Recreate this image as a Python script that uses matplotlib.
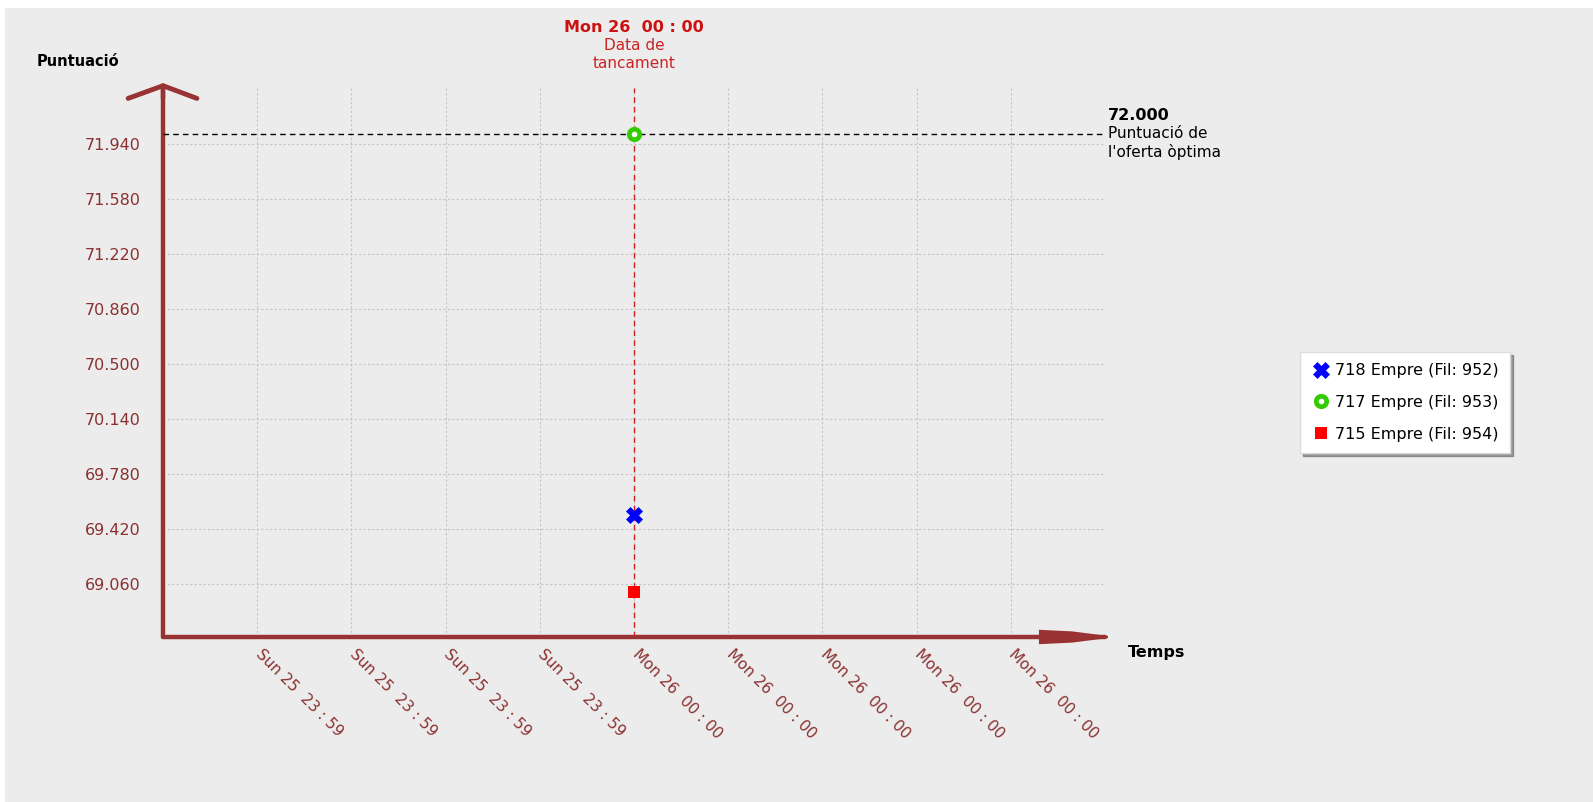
import matplotlib.pyplot as plt
import matplotlib.transforms as mtransforms
from matplotlib.patches import Rectangle, Polygon
from matplotlib.lines import Line2D

# data
tick_pos = [1, 2, 3, 4, 5, 6, 7, 8, 9]
tick_labels = ["Sun 25  23 : 59"] * 4 + ["Mon 26  00 : 00"] * 5
y_ticks = [69.060, 69.420, 69.780, 70.140, 70.500, 70.860, 71.220, 71.580, 71.940]
closing_x = 5
closing_label = "Mon 26  00 : 00"
optimal_score = 72.000

series_names = ["718 Empre (Fil: 952)", "717 Empre (Fil: 953)", "715 Empre (Fil: 954)"]
series_x = [5, 5, 5]
series_y = [69.51, 72.0, 69.01]

W, H = 1593, 802
axis_red = '#993333'
label_red = '#8b3030'
font = 'DejaVu Sans'

fig = plt.figure(figsize=(W / 100, H / 100), dpi=100, facecolor='white')
fig.patches.append(Rectangle((5 / W, 0), 1, 1 - 8 / H, transform=fig.transFigure,
                             facecolor='#ececec', edgecolor='none', zorder=-10))

ax = fig.add_axes([163 / W, 1 - 637 / H, 942 / W, 549 / H])
ax.patch.set_alpha(0)
ax.set_xlim(0, 10)
ax.set_ylim(68.714, 72.303)

# x tick labels drawn as texts so they can be nudged off the tick point
ax.set_xticks(tick_pos)
ax.set_xticklabels([])
xt = ax.get_xaxis_transform()
shift = mtransforms.ScaledTranslation(6 / 100, -10 / 100, fig.dpi_scale_trans)
for xv, lab in zip(tick_pos, tick_labels):
    ax.text(xv, 0, lab, transform=xt + shift, rotation=-45, ha='left', va='top',
            rotation_mode='anchor', color=label_red, fontsize=11, family=font)

ax.set_yticks(y_ticks)
ax.set_yticklabels([f"{v:.3f}" for v in y_ticks], color=label_red, fontsize=11.5, family=font)
ax.tick_params(axis='x', length=0)
ax.tick_params(axis='y', length=0, pad=16)
ax.grid(True, color='#c4c4c4', linestyle=(0, (2, 2)), linewidth=0.8)

for s in ['top', 'right']:
    ax.spines[s].set_visible(False)
for s in ['left', 'bottom']:
    ax.spines[s].set_color(axis_red)
    ax.spines[s].set_linewidth(3.2)
    ax.spines[s].set_capstyle('round')

# arrow heads
ax.plot([-0.37, 0, 0.36], [72.30 - 0.065, 72.318, 72.30 - 0.065], color=axis_red, lw=3.5,
        clip_on=False, solid_capstyle='round', zorder=5)
ax.plot([0, 0], [72.25, 72.318], color=axis_red, lw=3.2, clip_on=False, zorder=5)
head = Polygon([(9.31, 68.714 + 0.04), (9.65, 68.714 + 0.03), (10.03, 68.714),
                (9.65, 68.714 - 0.03), (9.31, 68.714 - 0.04)],
               closed=True, facecolor=axis_red, edgecolor=axis_red, lw=1.5, clip_on=False, zorder=5)
ax.add_patch(head)

# optimal score line and closing date line
ax.axhline(optimal_score, color='black', linestyle=(0, (4, 3)), linewidth=1.0, zorder=3)
ax.axvline(closing_x, color='#cc2222', linestyle=(0, (4, 3)), linewidth=1.0, zorder=3)

# points
styles = [
    dict(marker='X', color='#0000ff', markersize=11, markeredgewidth=0.5, markeredgecolor='#0000ff'),
    dict(marker='o', color='#33cc00', markersize=7.5, markerfacecolor='white',
         markeredgecolor='#33cc00', markeredgewidth=3.4),
    dict(marker='s', color='#ff0000', markersize=8, markeredgewidth=0),
]
handles = []
for xv, yv, name, st in zip(series_x, series_y, series_names, styles):
    ax.plot([xv], [yv], linestyle='none', zorder=6, clip_on=False, **st)
    handles.append(Line2D([], [], linestyle='none', label=name, **st))

# texts
ax.text(closing_x, (637 - 27) / 549, closing_label, transform=xt, ha='center', va='center',
        color='#cc1111', fontsize=11.5, fontweight='bold', family=font)
ax.text(closing_x, (637 - 46) / 549, "Data de", transform=xt, ha='center', va='center',
        color='#cc2222', fontsize=11, family=font)
ax.text(closing_x, (637 - 64) / 549, "tancament", transform=xt, ha='center', va='center',
        color='#cc2222', fontsize=11, family=font)

fig.text(1108 / W, 1 - 115 / H, f"{optimal_score:.3f}", ha='left', va='center',
         fontsize=11.5, fontweight='bold', family=font)
fig.text(1108 / W, 1 - 133 / H, "Puntuació de", ha='left', va='center', fontsize=11, family=font)
fig.text(1108 / W, 1 - 152 / H, "l'oferta òptima", ha='left', va='center', fontsize=11, family=font)

fig.text(37 / W, 1 - 62 / H, "Puntuació", ha='left', va='center', fontsize=10.5,
         fontweight='bold', family=font)
fig.text(1128 / W, 1 - 652 / H, "Temps", ha='left', va='center', fontsize=11.5,
         fontweight='bold', family=font)

leg = fig.legend(handles=handles, loc='upper left', bbox_to_anchor=(1300 / W, 1 - 352 / H),
                 frameon=True, fancybox=False, shadow=True,
                 prop={'family': font, 'size': 11.5}, handletextpad=0.3, borderpad=0.7,
                 labelspacing=1.05, handlelength=1.2, borderaxespad=0)
leg.get_frame().set_edgecolor('#dddddd')
leg.get_frame().set_linewidth(1.0)

fig.savefig('out.png', dpi=100, facecolor=fig.get_facecolor())
